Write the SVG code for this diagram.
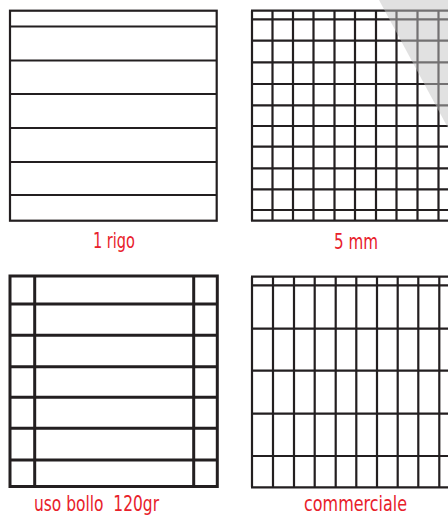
<svg xmlns="http://www.w3.org/2000/svg" width="448" height="515" viewBox="0 0 448 515">
<style>
.ln{stroke:#231f20;stroke-width:2.2;fill:none}
.thick{stroke:#231f20;stroke-width:3;fill:none}
.lbl{font-family:"DejaVu Sans Condensed","DejaVu Sans",sans-serif;font-size:21px;fill:#e8212b;white-space:pre}
</style>
<rect width="448" height="515" fill="#ffffff"/>
<g id="rigo">
<rect class="ln" x="10" y="10.7" width="206.7" height="210"/>
<path class="ln" d="M10 26.5H216.7M10 60.5H216.7M10 94H216.7M10 128H216.7M10 162H216.7M10 195H216.7"/>
<text class="lbl" x="93" y="248" textLength="42" lengthAdjust="spacingAndGlyphs">1 rigo</text>
</g>
<g id="quadretti">
<path class="ln" d="M252 10.7V220.7M272.5 10.7V220.7M293 10.7V220.7M313.5 10.7V220.7M334.5 10.7V220.7M355 10.7V220.7M376 10.7V220.7M396.5 10.7V220.7M417.5 10.7V220.7M438.5 10.7V220.7"/>
<path class="ln" d="M251 10.7H450M252 19.3H450M252 40.7H450M252 62.3H450M252 84H450M252 105.3H450M252 126H450M252 146.7H450M252 168.3H450M252 189.3H450M252 210H450M251 220.7H450"/>
<polygon points="379,0 448,0 448,128" fill="#c4c4c4" fill-opacity="0.5"/>
<text class="lbl" x="334" y="248.5" textLength="44" lengthAdjust="spacingAndGlyphs">5 mm</text>
</g>
<g id="bollo">
<rect class="thick" x="10" y="276" width="207.3" height="210.5"/>
<path class="thick" d="M34.7 276V486.5M193.7 276V486.5"/>
<path class="thick" d="M10 304H217.3M10 335.3H217.3M10 366.7H217.3M10 397.3H217.3M10 428.3H217.3M10 460H217.3"/>
<text class="lbl" x="34" y="510.5" textLength="125" lengthAdjust="spacingAndGlyphs">uso bollo  120gr</text>
</g>
<g id="commerciale">
<path class="ln" d="M252 276.7V487.3M273 276.7V487.3M294 276.7V487.3M314.7 276.7V487.3M335.7 276.7V487.3M356.3 276.7V487.3M377 276.7V487.3M397.7 276.7V487.3M418.3 276.7V487.3M439.3 276.7V487.3"/>
<path class="ln" d="M251 276.7H450M252 285.3H450M252 328.7H450M252 370.7H450M252 413.7H450M252 456H450M251 487.3H450"/>
<text class="lbl" x="304" y="510.5" textLength="103" lengthAdjust="spacingAndGlyphs">commerciale</text>
</g>
</svg>
